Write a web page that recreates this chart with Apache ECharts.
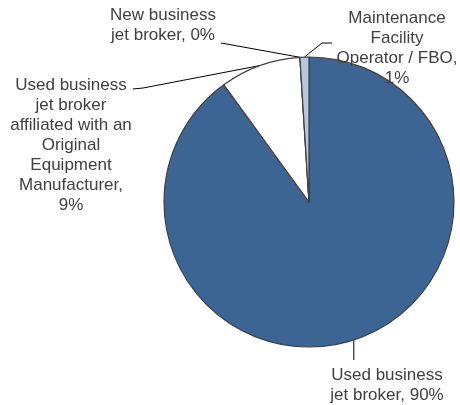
<!DOCTYPE html>
<html>
<head>
<meta charset="utf-8">
<script src="https://cdn.jsdelivr.net/npm/echarts@6/dist/echarts.min.js"></script>
<style>
  html, body { margin: 0; padding: 0; background: #ffffff; }
  #chart { width: 460px; height: 405px; }
</style>
</head>
<body>
<div id="chart"></div>
<script>
// Broker types, in clockwise order from twelve o'clock
const categories = [
  'Used business jet broker',
  'Used business jet broker affiliated with an Original Equipment Manufacturer',
  'New business jet broker',
  'Maintenance Facility Operator / FBO'
];
// Share of respondents, percent
const shares = [90, 9, 0, 1];
// Wrapped label text for each slice
const wrappedNames = [
  'Used business\njet broker',
  'Used business\njet broker\naffiliated with an\nOriginal\nEquipment\nManufacturer',
  'New business\njet broker',
  'Maintenance\nFacility\nOperator / FBO'
];
const valueOnOwnLine = [false, true, false, true];
const sliceColors = ['#3d6594', '#ffffff', '#ffffff', '#b8c6e0'];

// Label placement: centre x, top y, and the elbow points of each leader line
const labelPlacement = [
  { x: 387, y: 365, elbow: (p) => [[p[0], 360]] },
  { x: 71,  y: 75,  elbow: () => [[143, 88], [133, 89]] },
  { x: 163, y: 5,   elbow: () => [[221, 43]] },
  { x: 397, y: 8,   elbow: () => [[322, 43], [332, 43]] }
];

const data = categories.map((name, i) => ({
  name: name,
  value: shares[i],
  itemStyle: { color: sliceColors[i] }
}));

const chart = echarts.init(document.getElementById('chart'), null, { renderer: 'canvas' });
chart.setOption({
  backgroundColor: '#ffffff',
  animation: false,
  series: [{
    type: 'pie',
    center: [309, 202],
    radius: 145,
    startAngle: 90,
    clockwise: true,
    avoidLabelOverlap: false,
    stillShowZeroSum: true,
    itemStyle: { borderColor: '#404040', borderWidth: 1.2 },
    emphasis: { disabled: true },
    label: {
      show: true,
      position: 'outside',
      fontFamily: 'Liberation Sans, Arial, sans-serif',
      fontSize: 17,
      lineHeight: 20,
      color: '#404040',
      align: 'center',
      formatter: (p) => wrappedNames[p.dataIndex] + ',' +
        (valueOnOwnLine[p.dataIndex] ? '\n' : ' ') + p.value + '%'
    },
    labelLine: {
      show: true,
      lineStyle: { color: '#000000', width: 1 }
    },
    labelLayout: (params) => {
      const place = labelPlacement[params.dataIndex];
      const start = params.labelLinePoints ? params.labelLinePoints[0] : [0, 0];
      return {
        x: place.x,
        y: place.y,
        align: 'center',
        verticalAlign: 'top',
        labelLinePoints: [start].concat(place.elbow(start))
      };
    },
    data: data
  }]
});
</script>
</body>
</html>
